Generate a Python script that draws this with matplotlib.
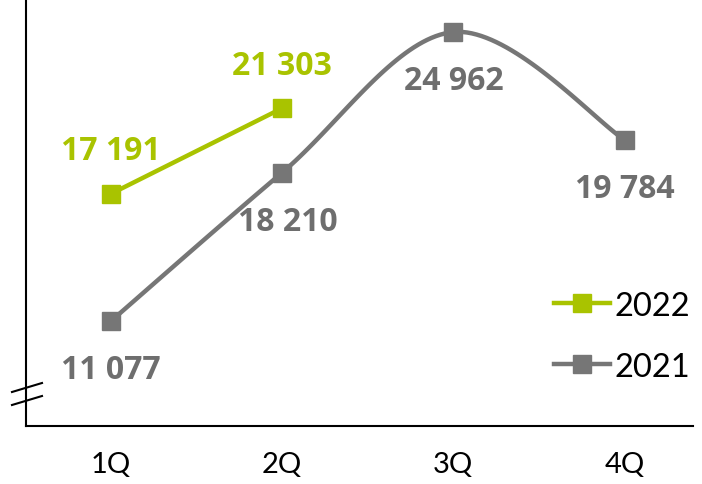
import numpy as np
import matplotlib.pyplot as plt
from matplotlib.lines import Line2D

quarters = ["1Q", "2Q", "3Q", "4Q"]
y2021 = [11077, 18210, 24962, 19784]
y2022 = [17191, 21303]
lab2021 = ["11 077", "18 210", "24 962", "19 784"]
lab2022 = ["17 191", "21 303"]

green = "#A9C300"
grey = "#767676"
font = "Lato"
labfont = "Open Sans"


def smooth(xs, ys, n=40):
    # catmull-rom style curve like the Excel "smoothed line"
    xs = np.asarray(xs, float)
    ys = np.asarray(ys, float)
    px = np.concatenate([[xs[0]], xs, [xs[-1]]])
    py = np.concatenate([[ys[0]], ys, [ys[-1]]])
    ox, oy = [], []
    for i in range(1, len(px) - 2):
        p0, p1, p2, p3 = [np.array([px[j], py[j]]) for j in range(i - 1, i + 3)]
        c1 = p1 + (p2 - p0) / 6
        c2 = p2 - (p3 - p1) / 6
        t = np.linspace(0, 1, n)[:, None]
        b = (1 - t) ** 3 * p1 + 3 * (1 - t) ** 2 * t * c1 + 3 * (1 - t) * t ** 2 * c2 + t ** 3 * p2
        ox.extend(b[:, 0])
        oy.extend(b[:, 1])
    return ox, oy


fig = plt.figure(figsize=(7.02, 4.85), dpi=100)
ax = fig.add_axes([26 / 702, 58 / 485, 667 / 702, 427 / 485])

x = np.arange(len(quarters))
sx, sy = smooth(x, y2021)
ax.plot(sx, sy, color=grey, lw=3.2, solid_capstyle="round", zorder=2)
ax.plot(x, y2021, "s", color=grey, ms=13.5, zorder=3)
ax.plot(x[:2], y2022, "-s", color=green, lw=3.2, ms=13.5, zorder=4)

for xi, v, t in zip(x, y2021, lab2021):
    dx = 0.03 if xi == 1 else 0
    ax.annotate(t, (xi + dx, v), xytext=(0, -35), textcoords="offset points",
                ha="center", va="center", fontsize=23, fontweight="bold",
                color="#6E6E6E", family=labfont)
for xi, v, t in zip(x, y2022, lab2022):
    ax.annotate(t, (xi, v), xytext=(0, 31), textcoords="offset points",
                ha="center", va="center", fontsize=23, fontweight="bold",
                color=green, family=labfont)

ax.set_xlim(-0.497, 3.4)
ax.set_ylim(6030, 26550)
ax.set_xticks(x)
ax.set_xticklabels(quarters, fontsize=21, family=font)
ax.tick_params(axis="x", length=0, pad=18)
ax.set_yticks([])
for s in ["top", "right"]:
    ax.spines[s].set_visible(False)
ax.spines["left"].set_linewidth(1.5)
ax.spines["bottom"].set_linewidth(1.5)

# axis break marks
for y0 in [393, 406]:
    fig.add_artist(Line2D([12 / 702, 42 / 702], [1 - y0 / 485, 1 - (y0 - 9) / 485],
                          color="black", lw=1.5))

handles = [Line2D([], [], color=green, lw=3.2, marker="s", ms=13.5),
           Line2D([], [], color=grey, lw=3.2, marker="s", ms=13.5)]
leg = ax.legend(handles, ["2022", "2021"], loc="lower right",
                bbox_to_anchor=(1.04, 0.035), frameon=False, handlelength=1.7,
                handletextpad=0.15, labelspacing=0.95,
                prop={"family": font, "size": 23.5})

fig.savefig("out.png", dpi=100)
